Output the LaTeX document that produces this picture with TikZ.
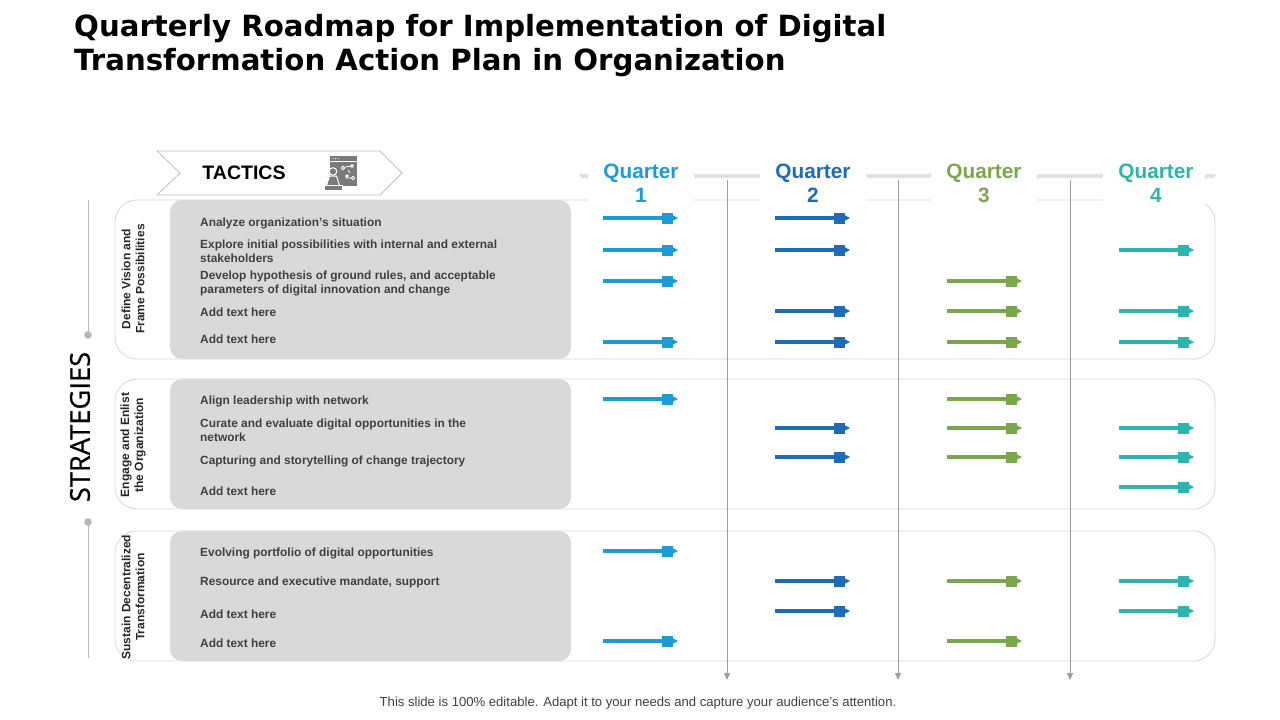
\documentclass[tikz,border=0pt]{standalone}
\usepackage{fontspec}
\setmainfont{Liberation Sans}
\newfontfamily\titlefont{DejaVu Sans}
\newfontfamily\stratfont[FakeBold=0.6]{Open Sans}
\usetikzlibrary{arrows.meta,decorations.pathmorphing}
\definecolor{qone}{HTML}{1E9BD5}
\definecolor{qtwo}{HTML}{1F6CB6}
\definecolor{qthree}{HTML}{7BA74C}
\definecolor{qfour}{HTML}{2CB4AD}
\definecolor{boxgray}{HTML}{D9D9D9}
\definecolor{linegray}{HTML}{DADADA}
\definecolor{txtgray}{HTML}{404040}
\definecolor{icongray}{HTML}{7A7A7A}
\tikzset{
  rowbox/.style={draw=linegray, line width=0.9pt, rounded corners=22pt, fill=white},
  graybox/.style={fill=boxgray, rounded corners=12pt},
  tactic/.style={anchor=west, align=left, inner sep=0pt, text=txtgray,
     font=\bfseries\fontsize{11.9}{14}\selectfont},
  strat/.style={rotate=90, align=center, inner sep=0pt, text=black!85,
     font=\bfseries\fontsize{12}{14}\selectfont},
  qlabel/.style={align=center, inner sep=0pt, font=\bfseries\fontsize{20.8}{24}\selectfont},
  vline/.style={draw=black!38, line width=0.8pt, -{Triangle[width=6pt,length=7pt]}},
  headcover/.style={fill=white, draw=none},
}
\newcommand\qbar[3]{%
  \draw[#3, line width=3.2pt] (#1,#2) -- ++(60,0);
  \fill[#3] (#1+59,#2-5.5) rectangle ++(11,11);
  \fill[#3] (#1+70,#2-2.6) -- ++(5,2.6) -- ++(-5,2.6) -- cycle;
}
\begin{document}
\begin{tikzpicture}[x=1pt,y=-1pt]
\useasboundingbox (0,0) rectangle (1280,720);
\fill[white] (0,0) rectangle (1280,720);

% title
\node[anchor=base west, inner sep=0pt, font=\titlefont\bfseries\fontsize{29.2}{34}\selectfont] (title1) at (74,36) {Quarterly Roadmap for Implementation of Digital};
\node[anchor=base west, inner sep=0pt, font=\titlefont\bfseries\fontsize{29.2}{34}\selectfont] (title2) at (74,70) {Transformation Action Plan in Organization};

% tactics banner
\draw[draw=black!25, fill=white, line width=0.8pt] (157,151) -- (380,151) -- (402,173) -- (380,195) -- (157,195) -- (180,173) -- cycle;
\node[inner sep=0pt, font=\bfseries\fontsize{19.5}{22}\selectfont] (tactics) at (244,173) {TACTICS};
% icon
\fill[icongray] (330,156) rectangle (357,186);
\draw[white, line width=0.6pt] (330,161) -- (357,161);
\foreach \dx in {333,335.5,338} {\fill[white] (\dx,158.6) circle (0.6);}
\draw[white, line width=0.8pt] (343,168) circle (1.8) (352,166) circle (1.5) (347,176) circle (1.3) (353,178) circle (1.8);
\draw[white, line width=0.8pt] (345,178) -- (351,178) (345,167) -- (350,166.3) (348,170) -- (350,173);
\draw[white, fill=icongray, line width=1pt] (333,171.5) circle (3.8);
\draw[white, fill=icongray, line width=1pt] (329.5,176) -- (336.5,176) -- (339.5,185.5) -- (326.5,185.5) -- cycle;
\draw[white, fill=icongray, line width=1pt] (324,185.5) rectangle (342,190.5);

% strategies axis
\draw[black!28, line width=0.8pt] (88,200) -- (88,335);
\draw[black!28, line width=0.8pt] (88,522) -- (88,658);
\fill[black!28] (88,335) circle (3.8);
\fill[black!28] (88,522) circle (3.8);
\node[rotate=90, inner sep=0pt, font=\stratfont\fontsize{27.3}{30}\selectfont] (strategies) at (80,427) {STRATEGIES};

% hatch line
\draw[linegray, line width=0.9pt, decorate, decoration={zigzag, segment length=2pt, amplitude=1.4pt}] (580,176) -- (1215,176);

% rows
\draw[rowbox] (115,200) rectangle (1215,359);
\draw[rowbox] (115,379) rectangle (1215,509);
\draw[rowbox] (115,531) rectangle (1215,661);
\fill[graybox] (170,200) rectangle (571,359);
\fill[graybox] (170,379) rectangle (571,509);
\fill[graybox] (170,531) rectangle (571,661);

% header covers
\foreach \cx in {641,813,984} {\fill[headcover] (\cx-53,156) rectangle (\cx+53,206);}
\fill[headcover] (1103,156) rectangle (1205,205);

% quarter labels
\node[qlabel, text=qone] (q1) at (641,183) {Quarter\\1};
\node[qlabel, text=qtwo] (q2) at (813,183) {Quarter\\2};
\node[qlabel, text=qthree] (q3) at (984,183) {Quarter\\3};
\node[qlabel, text=qfour] (q4) at (1156,183) {Quarter\\4};

% vertical separators
\coordinate (s1a) at (727,180); \coordinate (s1b) at (727,680);
\coordinate (s2a) at (898,180); \coordinate (s2b) at (898,680);
\coordinate (s3a) at (1070,180); \coordinate (s3b) at (1070,680);
\draw[vline] (s1a) -- (s1b);
\draw[vline] (s2a) -- (s2b);
\draw[vline] (s3a) -- (s3b);

% strategy labels
\node[strat] (st1) at (133,279) {Define Vision and\\Frame Possibilities};
\node[strat] (st2) at (133,445) {Engage and Enlist\\the Organization};
\node[strat] (st3) at (133,597) {Sustain Decentralized\\Transformation};

% tactics
\node[tactic] (t11) at (200,223) {Analyze organization's situation};
\node[tactic] (t12) at (200,251) {Explore initial possibilities with internal and external\\stakeholders};
\node[tactic] (t13) at (200,283) {Develop hypothesis of ground rules, and acceptable\\parameters of digital innovation and change};
\node[tactic] (t14) at (200,312) {Add text here};
\node[tactic] (t15) at (200,339) {Add text here};
\node[tactic] (t21) at (200,401) {Align leadership with network};
\node[tactic] (t22) at (200,430) {Curate and evaluate digital opportunities in the\\network};
\node[tactic] (t23) at (200,461) {Capturing and storytelling of change trajectory};
\node[tactic] (t24) at (200,491) {Add text here};
\node[tactic] (t31) at (200,553) {Evolving portfolio of digital opportunities};
\node[tactic] (t32) at (200,582) {Resource and executive mandate, support};
\node[tactic] (t33) at (200,614) {Add text here};
\node[tactic] (t34) at (200,643) {Add text here};

% bars
\foreach \y in {218,250,281,342,399,551,641} {\qbar{603}{\y}{qone}}
\foreach \y in {218,250,311,342,428,457,581,611} {\qbar{775}{\y}{qtwo}}
\foreach \y in {281,311,342,399,428,457,581,641} {\qbar{947}{\y}{qthree}}
\foreach \y in {250,311,342,428,457,487,581,611} {\qbar{1119}{\y}{qfour}}

% footer
\node[inner sep=0pt, text=txtgray, font=\fontsize{13.1}{15}\selectfont] (footer) at (638,703) {This slide is 100\% editable. Adapt it to your needs and capture your audience's attention.};
\end{tikzpicture}
\end{document}
